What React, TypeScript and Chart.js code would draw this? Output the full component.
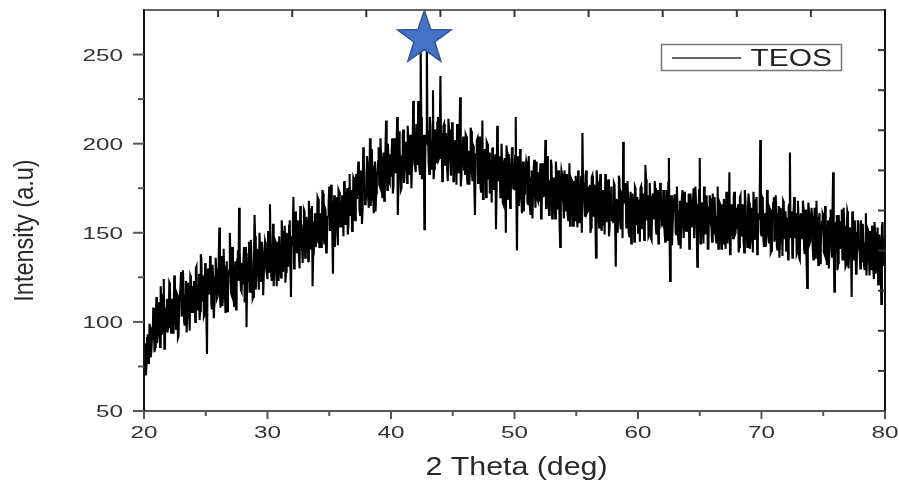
import React, { useEffect, useRef } from "react";
import { Chart, registerables } from "chart.js";

Chart.register(...registerables);

// ---- data ----
// Samples on the 0.1° grid: 20.0, 20.1, ... 80.0
const X_START = 20;
const X_STEP = 0.1;
const INTENSITY_GRID: number[] = [
  72, 88, 76, 93, 81, 97, 84, 90, 101, 86,
  114, 92, 107, 86, 111, 98, 124, 90, 105, 94,
  100, 121, 94, 113, 105, 124, 96, 115, 92, 111,
  128, 107, 119, 98, 123, 103, 116, 95, 125, 109,
  105, 123, 130, 107, 119, 101, 138, 112, 126, 104,
  127, 82, 130, 116, 133, 107, 124, 110, 136, 113,
  118, 153, 108, 137, 114, 125, 105, 134, 116, 129,
  137, 115, 130, 109, 134, 121, 140, 164, 128, 117,
  121, 142, 115, 97, 126, 145, 117, 136, 113, 132,
  148, 127, 139, 118, 143, 123, 136, 115, 145, 129,
  124, 142, 166, 126, 138, 120, 146, 131, 145, 123,
  148, 125, 151, 137, 154, 128, 145, 131, 157, 114,
  143, 170, 133, 162, 139, 150, 130, 159, 141, 154,
  162, 140, 155, 134, 159, 146, 165, 138, 153, 142,
  148, 169, 142, 161, 153, 172, 144, 163, 140, 159,
  176, 155, 167, 127, 171, 151, 164, 143, 173, 157,
  153, 171, 178, 155, 167, 149, 175, 160, 174, 152,
  180, 157, 183, 169, 186, 160, 177, 163, 189, 166,
  174, 188, 164, 203, 170, 181, 161, 190, 172, 185,
  198, 176, 191, 170, 195, 182, 213, 174, 189, 178,
  182, 203, 176, 195, 187, 215, 178, 197, 174, 193,
  208, 187, 199, 178, 203, 183, 196, 175, 224, 189,
  184, 202, 224, 186, 255, 180, 203, 152, 205, 262,
  206, 183, 209, 195, 230, 186, 203, 189, 215, 192,
  238, 206, 182, 211, 188, 199, 179, 208, 190, 203,
  205, 183, 198, 177, 202, 189, 226, 181, 196, 185,
  183, 204, 177, 196, 188, 207, 179, 198, 160, 194,
  203, 182, 194, 173, 213, 178, 191, 170, 200, 184,
  172, 190, 197, 174, 186, 152, 210, 179, 193, 171,
  189, 166, 192, 150, 195, 169, 186, 172, 198, 175,
  174, 215, 140, 193, 170, 181, 161, 190, 172, 185,
  188, 166, 181, 160, 185, 172, 191, 164, 179, 168,
  168, 189, 162, 181, 173, 202, 164, 183, 160, 179,
  188, 167, 179, 158, 183, 163, 176, 142, 185, 169,
  158, 176, 183, 160, 172, 154, 180, 165, 179, 157,
  176, 153, 179, 165, 182, 206, 173, 159, 185, 162,
  163, 177, 153, 182, 159, 170, 136, 179, 161, 174,
  177, 155, 170, 149, 174, 161, 180, 153, 168, 157,
  156, 177, 131, 169, 161, 180, 152, 171, 201, 167,
  178, 157, 169, 148, 173, 153, 166, 145, 175, 159,
  150, 168, 175, 152, 164, 146, 188, 157, 171, 149,
  169, 146, 172, 158, 175, 149, 166, 152, 178, 155,
  155, 169, 145, 174, 151, 192, 123, 171, 153, 166,
  171, 149, 164, 143, 168, 155, 174, 147, 162, 151,
  151, 172, 145, 164, 156, 175, 147, 166, 131, 162,
  192, 153, 165, 144, 169, 149, 162, 141, 171, 155,
  145, 163, 170, 147, 159, 141, 167, 152, 166, 144,
  164, 141, 167, 153, 184, 144, 161, 147, 173, 150,
  152, 166, 142, 171, 148, 159, 139, 168, 150, 163,
  167, 145, 160, 139, 164, 151, 170, 143, 158, 202,
  148, 169, 142, 161, 153, 172, 144, 163, 140, 159,
  170, 149, 161, 140, 165, 145, 158, 137, 167, 151,
  140, 158, 165, 195, 154, 136, 162, 147, 161, 139,
  158, 135, 161, 147, 164, 138, 155, 119, 167, 144,
  145, 159, 135, 164, 141, 152, 132, 161, 143, 156,
  160, 138, 153, 132, 157, 144, 163, 136, 184, 117,
  139, 160, 133, 152, 144, 163, 135, 154, 131, 150,
  160, 139, 151, 114, 155, 135, 148, 127, 157, 141,
  130, 148, 155, 132, 144, 126, 152, 137, 151, 129,
  147, 124, 150, 136, 153, 127, 144, 110, 156, 133,
  137,
];

// Samples between the grid points: 20.05, 20.15, ... 79.95
const INTENSITY_HALF: number[] = [
  82, 70, 91, 77, 99, 80, 92, 108, 83, 98,
  88, 111, 99, 120, 93, 115, 85, 108, 113, 97,
  122, 99, 109, 94, 126, 101, 116, 91, 111, 119,
  103, 129, 100, 115, 94, 122, 110, 126, 105, 120,
  123, 100, 131, 112, 127, 106, 135, 114, 103, 133,
  105, 128, 116, 137, 110, 132, 102, 125, 130, 114,
  137, 114, 124, 109, 141, 116, 131, 106, 126, 150,
  116, 142, 113, 128, 107, 135, 123, 139, 118, 133,
  134, 111, 142, 123, 138, 117, 146, 125, 114, 160,
  118, 141, 129, 150, 123, 145, 115, 138, 143, 127,
  151, 128, 138, 123, 155, 130, 145, 120, 140, 148,
  131, 157, 128, 143, 122, 150, 138, 154, 133, 148,
  153, 130, 161, 142, 157, 136, 165, 144, 133, 163,
  136, 159, 147, 168, 141, 163, 120, 156, 161, 145,
  170, 147, 157, 142, 174, 149, 164, 139, 159, 167,
  151, 177, 148, 163, 142, 170, 158, 174, 153, 168,
  171, 148, 179, 160, 175, 154, 183, 162, 151, 181,
  158, 181, 169, 190, 163, 185, 155, 198, 183, 167,
  193, 170, 180, 165, 197, 172, 187, 162, 182, 190,
  177, 203, 174, 189, 168, 196, 184, 200, 179, 194,
  195, 172, 203, 184, 199, 160, 207, 186, 175, 205,
  178, 201, 189, 210, 183, 205, 175, 198, 216, 187,
  211, 188, 198, 183, 215, 190, 205, 180, 200, 208,
  189, 215, 186, 201, 180, 208, 196, 212, 191, 206,
  202, 179, 210, 191, 206, 185, 214, 193, 182, 212,
  179, 202, 190, 211, 184, 206, 176, 199, 204, 188,
  205, 182, 192, 177, 209, 184, 199, 174, 194, 202,
  178, 204, 175, 190, 169, 197, 185, 201, 180, 195,
  190, 167, 198, 179, 194, 173, 202, 181, 170, 200,
  167, 190, 178, 199, 172, 194, 164, 187, 192, 176,
  193, 170, 180, 165, 197, 172, 187, 162, 182, 190,
  167, 193, 164, 179, 158, 186, 174, 190, 169, 184,
  181, 158, 189, 170, 185, 164, 193, 172, 161, 191,
  158, 181, 169, 190, 163, 185, 155, 178, 183, 167,
  185, 162, 172, 157, 189, 164, 179, 154, 174, 182,
  159, 185, 156, 171, 150, 178, 166, 182, 161, 176,
  173, 150, 181, 162, 177, 156, 185, 164, 153, 183,
  151, 174, 162, 183, 156, 178, 148, 171, 176, 160,
  178, 155, 165, 150, 182, 157, 172, 147, 167, 175,
  153, 179, 150, 165, 144, 172, 160, 176, 155, 170,
  168, 145, 176, 157, 172, 151, 180, 159, 148, 178,
  147, 170, 158, 179, 152, 174, 144, 167, 172, 156,
  174, 151, 161, 146, 178, 153, 168, 143, 163, 171,
  150, 176, 147, 162, 141, 169, 157, 173, 152, 167,
  164, 141, 172, 153, 168, 147, 176, 155, 144, 174,
  144, 167, 155, 176, 149, 171, 141, 164, 169, 153,
  172, 149, 159, 144, 176, 151, 166, 141, 161, 169,
  147, 173, 144, 159, 138, 166, 154, 170, 149, 164,
  162, 139, 170, 151, 166, 145, 174, 153, 142, 172,
  141, 164, 152, 173, 146, 168, 138, 161, 166, 150,
  170, 147, 157, 142, 174, 149, 164, 139, 159, 167,
  145, 171, 142, 157, 136, 164, 152, 168, 147, 162,
  158, 135, 166, 147, 162, 141, 170, 149, 138, 168,
  136, 159, 147, 168, 141, 163, 133, 156, 161, 145,
  164, 141, 151, 136, 168, 143, 158, 133, 153, 161,
  139, 165, 136, 151, 130, 158, 146, 162, 141, 156,
  152, 129, 160, 141, 156, 135, 164, 143, 132, 162,
  130, 153, 141, 162, 135, 157, 127, 150, 155, 139,
  157, 134, 144, 129, 161, 136, 151, 126, 146, 154,
  130, 156, 127, 142, 121, 149, 137, 153, 132, 147,
];

const SERIES_LABEL = "TEOS";
const X_TITLE = "2 Theta (deg)";
const Y_TITLE = "Intensity (a.u)";

const X_MIN = 20;
const X_MAX = 80;
const Y_MIN = 50;
const Y_MAX = 275;
const X_TICKS = [20, 30, 40, 50, 60, 70, 80];
const X_MINOR_TICKS = [25, 35, 45, 55, 65, 75];
const Y_TICKS = [50, 100, 150, 200, 250];
const Y_MINOR_TICKS = [75, 125, 175, 225];
const MIRROR_DIVISIONS = 10; // top and right mirror axes
const STAR_MARK = { x: 42.7, y: 259 };

const FONT = "'Liberation Sans', Arial, sans-serif";

function stretchedText(
  ctx: CanvasRenderingContext2D,
  text: string,
  x: number,
  y: number,
  sx: number,
  align: CanvasTextAlign
) {
  ctx.save();
  ctx.translate(x, y);
  ctx.scale(sx, 1);
  ctx.textAlign = align;
  ctx.textBaseline = "alphabetic";
  ctx.fillText(text, 0, 0);
  ctx.restore();
}

function seg(ctx: CanvasRenderingContext2D, x1: number, y1: number, x2: number, y2: number) {
  ctx.beginPath();
  ctx.moveTo(x1, y1);
  ctx.lineTo(x2, y2);
  ctx.stroke();
}

const framePlugin = {
  id: "framePlugin",
  afterDatasetsDraw(chart: any) {
    const { ctx, chartArea: a, scales } = chart;
    const xs = scales.x;
    const ys = scales.y;
    ctx.save();
    ctx.lineCap = "butt";

    // star marker
    const cx = xs.getPixelForValue(STAR_MARK.x);
    const cy = ys.getPixelForValue(STAR_MARK.y);
    const R = 28;
    const r = 11;
    ctx.beginPath();
    for (let i = 0; i < 10; i++) {
      const ang = -Math.PI / 2 + (i * Math.PI) / 5;
      const rad = i % 2 === 0 ? R : r;
      const px = cx + rad * Math.cos(ang);
      const py = cy + rad * Math.sin(ang);
      if (i === 0) ctx.moveTo(px, py);
      else ctx.lineTo(px, py);
    }
    ctx.closePath();
    ctx.fillStyle = "#4472c4";
    ctx.fill();
    ctx.strokeStyle = "#2f5597";
    ctx.lineWidth = 1.5;
    ctx.stroke();

    // frame
    ctx.lineWidth = 2;
    ctx.strokeStyle = "#666";
    seg(ctx, a.left, a.top, a.right, a.top);
    ctx.strokeStyle = "#555";
    seg(ctx, a.left, a.bottom, a.right + 1, a.bottom);
    ctx.strokeStyle = "#111";
    seg(ctx, a.left, a.top - 1, a.left, a.bottom + 8);
    seg(ctx, a.right, a.top - 1, a.right, a.bottom + 1);

    // left ticks (outward)
    ctx.strokeStyle = "#555";
    for (const v of Y_TICKS) {
      const py = ys.getPixelForValue(v);
      seg(ctx, a.left - 11, py, a.left, py);
    }
    for (const v of Y_MINOR_TICKS) {
      const py = ys.getPixelForValue(v);
      seg(ctx, a.left - 6, py, a.left, py);
    }
    // bottom ticks (outward)
    for (const v of X_TICKS) {
      const px = xs.getPixelForValue(v);
      seg(ctx, px, a.bottom, px, a.bottom + 8);
    }
    for (const v of X_MINOR_TICKS) {
      const px = xs.getPixelForValue(v);
      seg(ctx, px, a.bottom, px, a.bottom + 5);
    }
    // mirror ticks (inward) on top and right
    ctx.strokeStyle = "#333";
    for (let i = 1; i < MIRROR_DIVISIONS; i++) {
      const px = a.left + ((a.right - a.left) * i) / MIRROR_DIVISIONS;
      seg(ctx, px, a.top, px, a.top + 7);
      const py = a.top + ((a.bottom - a.top) * i) / MIRROR_DIVISIONS;
      seg(ctx, a.right - 7, py, a.right, py);
    }

    // tick labels
    ctx.fillStyle = "#333";
    ctx.font = `16.5px ${FONT}`;
    for (const v of Y_TICKS) {
      const py = ys.getPixelForValue(v);
      stretchedText(ctx, String(v), a.left - 21, py + 6, 1.47, "right");
    }
    for (const v of X_TICKS) {
      const px = xs.getPixelForValue(v);
      stretchedText(ctx, String(v), px, a.bottom + 27, 1.47, "center");
    }

    // axis titles
    ctx.fillStyle = "#2a2a2a";
    ctx.font = `25.5px ${FONT}`;
    stretchedText(ctx, X_TITLE, (a.left + a.right) / 2 + 2, a.bottom + 64, 1.19, "center");

    ctx.save();
    ctx.font = `23.5px ${FONT}`;
    ctx.translate(a.left - 111, (a.top + a.bottom) / 2 + 20);
    ctx.scale(1.2, 1);
    ctx.rotate(-Math.PI / 2);
    ctx.textAlign = "center";
    ctx.textBaseline = "alphabetic";
    ctx.fillText(Y_TITLE, 0, 0);
    ctx.restore();

    // legend
    const lx = a.right - 223.5;
    const ly = a.top + 34.5;
    ctx.strokeStyle = "#777";
    ctx.lineWidth = 1.5;
    ctx.strokeRect(lx, ly, 180, 26);
    ctx.strokeStyle = "#666";
    ctx.lineWidth = 2;
    seg(ctx, lx + 10.5, ly + 13.5, lx + 79.5, ly + 13.5);
    ctx.fillStyle = "#222";
    ctx.font = `24.5px ${FONT}`;
    stretchedText(ctx, chart.data.datasets[0].label, lx + 89, ly + 21.5, 1.22, "left");

    ctx.restore();
  },
};

export default function App() {
  const canvasRef = useRef<HTMLCanvasElement | null>(null);

  useEffect(() => {
    const canvas = canvasRef.current;
    if (!canvas) return;
    const points: { x: number; y: number }[] = [];
    INTENSITY_GRID.forEach((v, i) => {
      const x = X_START + i * X_STEP;
      points.push({ x, y: v });
      if (i < INTENSITY_HALF.length) points.push({ x: x + X_STEP / 2, y: INTENSITY_HALF[i] });
    });
    const chart = new Chart(canvas, {
      type: "line",
      data: {
        datasets: [
          {
            label: SERIES_LABEL,
            data: points,
            borderColor: "#000",
            borderWidth: 2.1,
            pointRadius: 0,
            tension: 0,
            fill: false,
          },
        ],
      },
      options: {
        animation: false,
        responsive: false,
        devicePixelRatio: 1,
        layout: { padding: { left: 144, right: 14, top: 10, bottom: 72 } },
        plugins: {
          legend: { display: false },
          tooltip: { enabled: false },
        },
        scales: {
          x: { type: "linear", min: X_MIN, max: X_MAX, display: false },
          y: { type: "linear", min: Y_MIN, max: Y_MAX, display: false },
        },
      },
      plugins: [framePlugin],
    });
    return () => chart.destroy();
  }, []);

  return (
    <div style={{ position: "absolute", left: 0, top: 0, width: 899, height: 483, background: "#fff" }}>
      <canvas ref={canvasRef} width={899} height={483} />
    </div>
  );
}
